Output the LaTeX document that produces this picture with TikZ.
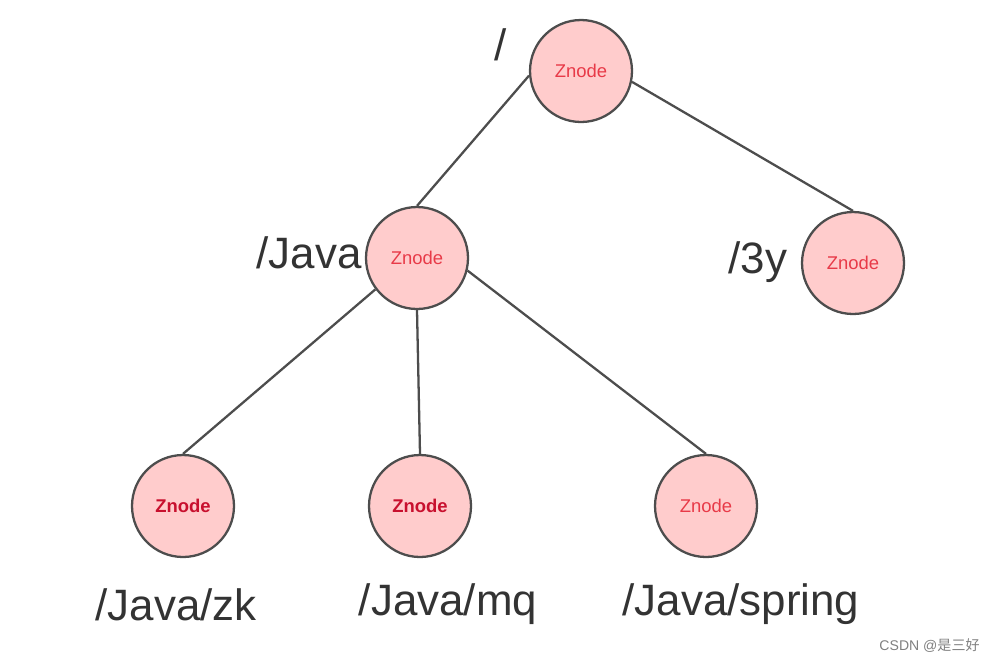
\documentclass[tikz,border=0pt]{standalone}
\usepackage{fontspec}
\setmainfont{Liberation Sans}
\newfontfamily\cjk{Noto Sans CJK SC}
\usepackage{tikz}
\definecolor{zfill}{HTML}{FFCCCC}
\definecolor{zline}{HTML}{4D4D4D}
\definecolor{ztext}{HTML}{E83A48}
\definecolor{ztextbf}{HTML}{C8102E}
\tikzset{
  znode/.style={circle, draw=zline, line width=1.3pt, fill=zfill, minimum size=2.04cm, inner sep=0pt, text=ztext, font=\fontsize{10.5}{12}\selectfont},
  znodebf/.style={znode, text=ztextbf, font=\fontsize{10.5}{12}\selectfont\bfseries},
  zpath/.style={font=\fontsize{25}{30}\selectfont, text=black!80, inner sep=0pt},
  zedge/.style={draw=zline, line width=1.3pt}
}
\newcommand{\znode}[4]{\node[#4] (#1) at ( #2 , #3 ) {Znode};}
\newcommand{\zlabl}[4]{\node[zpath] (#1) at ( #2 , #3 ) {#4};}

\begin{document}
\begin{tikzpicture}[x=0.02cm, y=-0.02cm]
        \useasboundingbox (0,0) rectangle (996,664);

        \znode{root}{581}{71}{znode}
        \znode{java}{417}{258}{znode}
        \znode{y3}{853}{263}{znode}
        \znode{zk}{183}{506}{znodebf}
        \znode{mq}{420}{506}{znodebf}
        \znode{spring}{706}{506}{znode}

        \draw[zedge] (root.185) -- (java.north);
        \draw[zedge] (root.-12) -- (y3.north);
        \draw[zedge] (java.217) -- (zk.north);
        \draw[zedge] (java.south) -- (mq.north);
        \draw[zedge] (java.-14) -- (spring.north);

        \zlabl{lroot}{501}{45}{/}
        \zlabl{ljava}{309}{253}{/Java}
        \zlabl{ly3}{758}{262}{/3y}
        \zlabl{lzk}{176}{605}{/Java/zk}
        \zlabl{lmq}{448}{604}{/Java/mq}
        \zlabl{lspring}{741}{604}{/Java/spring}

        \node[anchor=east, text=black!50, font=\fontsize{8}{10}\selectfont, inner sep=0pt] (mark) at (980,646) {CSDN @{\cjk 是三好}};
    \end{tikzpicture}
\end{document}
